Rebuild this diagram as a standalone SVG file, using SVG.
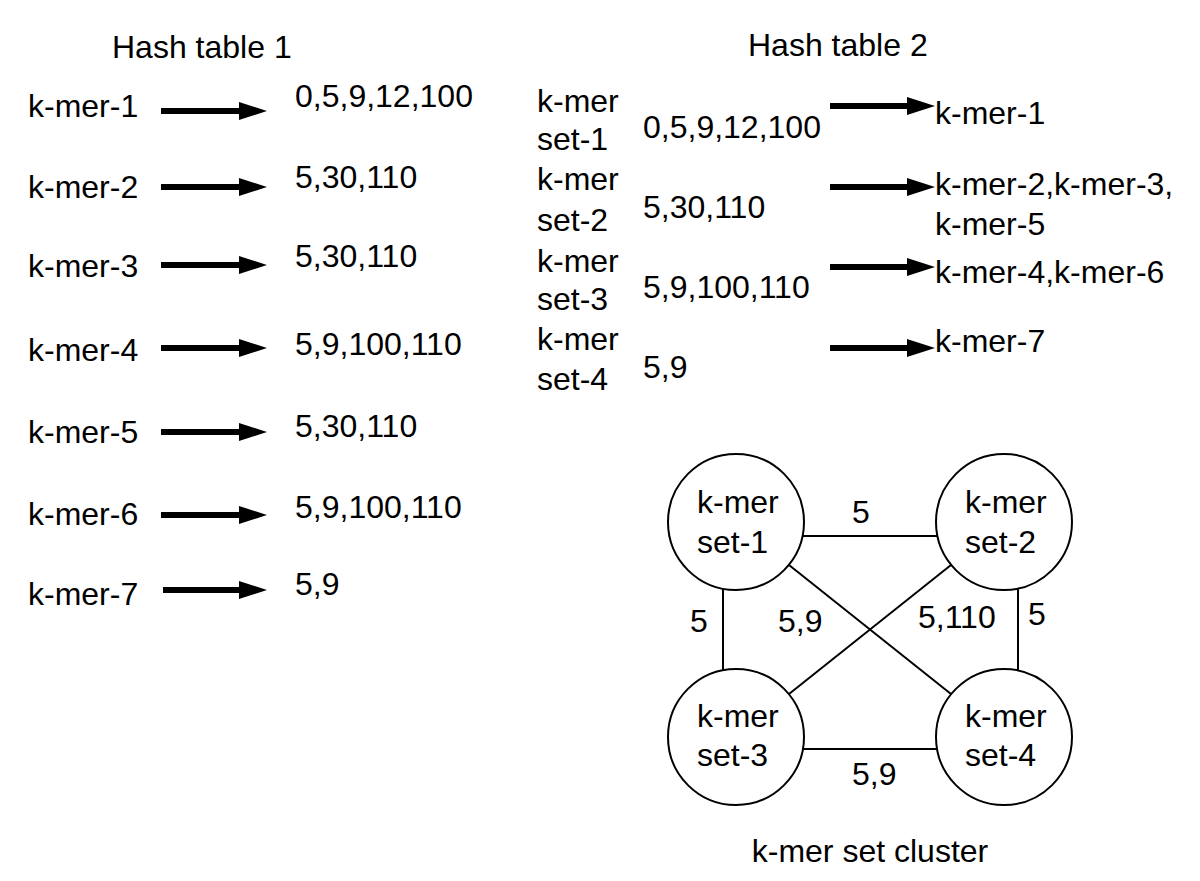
<svg xmlns="http://www.w3.org/2000/svg" width="1200" height="881" viewBox="0 0 1200 881">
<style>
text{font-family:"Liberation Sans",Arial,Helvetica,sans-serif;font-size:32px;fill:#000}
.arr{stroke:#000;stroke-width:6;fill:none}
.edge{stroke:#000;stroke-width:2;fill:none}
.node{fill:#fff;stroke:#000;stroke-width:2}
.mid{text-anchor:middle}
</style>
<defs>
<marker id="ah" markerUnits="userSpaceOnUse" markerWidth="29" markerHeight="19" refX="1" refY="9" orient="auto">
<path d="M0,0 L28,9 L0,18 z" fill="#000"/>
</marker>
</defs>
<rect width="1200" height="881" fill="#fff"/>
<g id="titles">
<text x="112" y="58">Hash table 1</text>
<text x="748" y="56">Hash table 2</text>
<text x="870" y="862" class="mid">k-mer set cluster</text>
</g>
<g id="table1">
<g id="t1-row1"><text x="28" y="117">k-mer-1</text><text x="295" y="107">0,5,9,12,100</text></g>
<g id="t1-row2"><text x="28" y="198">k-mer-2</text><text x="295" y="188">5,30,110</text></g>
<g id="t1-row3"><text x="28" y="277">k-mer-3</text><text x="295" y="267">5,30,110</text></g>
<g id="t1-row4"><text x="28" y="361">k-mer-4</text><text x="295" y="355">5,9,100,110</text></g>
<g id="t1-row5"><text x="28" y="443">k-mer-5</text><text x="295" y="437">5,30,110</text></g>
<g id="t1-row6"><text x="28" y="525">k-mer-6</text><text x="295" y="518">5,9,100,110</text></g>
<g id="t1-row7"><text x="28" y="605">k-mer-7</text><text x="295" y="595">5,9</text></g>
</g>
<g id="table2">
<g id="t2-row1"><text x="537" y="112">k-mer</text><text x="537" y="150">set-1</text><text x="643" y="138">0,5,9,12,100</text><text x="935" y="124">k-mer-1</text></g>
<g id="t2-row2"><text x="537" y="190">k-mer</text><text x="537" y="231">set-2</text><text x="643" y="218">5,30,110</text><text x="935" y="195">k-mer-2,k-mer-3,</text><text x="935" y="235">k-mer-5</text></g>
<g id="t2-row3"><text x="537" y="272">k-mer</text><text x="537" y="310">set-3</text><text x="643" y="298">5,9,100,110</text><text x="935" y="283">k-mer-4,k-mer-6</text></g>
<g id="t2-row4"><text x="537" y="350">k-mer</text><text x="537" y="390">set-4</text><text x="643" y="378">5,9</text><text x="935" y="352">k-mer-7</text></g>
</g>
<g id="connectors">
<line class="arr" x1="161" y1="111" x2="240" y2="111" marker-end="url(#ah)"/>
<line class="arr" x1="161" y1="187" x2="240" y2="187" marker-end="url(#ah)"/>
<line class="arr" x1="161" y1="265" x2="240" y2="265" marker-end="url(#ah)"/>
<line class="arr" x1="161" y1="348" x2="240" y2="348" marker-end="url(#ah)"/>
<line class="arr" x1="161" y1="432" x2="240" y2="432" marker-end="url(#ah)"/>
<line class="arr" x1="161" y1="515" x2="240" y2="515" marker-end="url(#ah)"/>
<line class="arr" x1="163" y1="590" x2="240" y2="590" marker-end="url(#ah)"/>
<line class="arr" x1="830" y1="106" x2="908" y2="106" marker-end="url(#ah)"/>
<line class="arr" x1="830" y1="187" x2="908" y2="187" marker-end="url(#ah)"/>
<line class="arr" x1="830" y1="267" x2="908" y2="267" marker-end="url(#ah)"/>
<line class="arr" x1="830" y1="348" x2="908" y2="348" marker-end="url(#ah)"/>
<line class="edge" x1="802" y1="536" x2="938" y2="536"/>
<line class="edge" x1="803" y1="749" x2="937" y2="749"/>
<line class="edge" x1="723" y1="589" x2="723" y2="670"/>
<line class="edge" x1="1018" y1="589" x2="1018" y2="670"/>
<line class="edge" x1="789" y1="565" x2="951" y2="694"/>
<line class="edge" x1="951" y1="565" x2="789" y2="694"/>
</g>
<g id="edge-labels">
<text x="852" y="523">5</text>
<text x="690" y="632">5</text>
<text x="778" y="632">5,9</text>
<text x="918" y="628">5,110</text>
<text x="1028" y="625">5</text>
<text x="852" y="785">5,9</text>
</g>
<g id="set1"><circle class="node" cx="736" cy="522" r="68"/><text x="697" y="513">k-mer</text><text x="697" y="553">set-1</text></g>
<g id="set2"><circle class="node" cx="1004" cy="522" r="68"/><text x="965" y="513">k-mer</text><text x="965" y="553">set-2</text></g>
<g id="set3"><circle class="node" cx="736" cy="737" r="68"/><text x="697" y="727">k-mer</text><text x="697" y="766">set-3</text></g>
<g id="set4"><circle class="node" cx="1004" cy="737" r="68"/><text x="965" y="727">k-mer</text><text x="965" y="766">set-4</text></g>
</svg>
